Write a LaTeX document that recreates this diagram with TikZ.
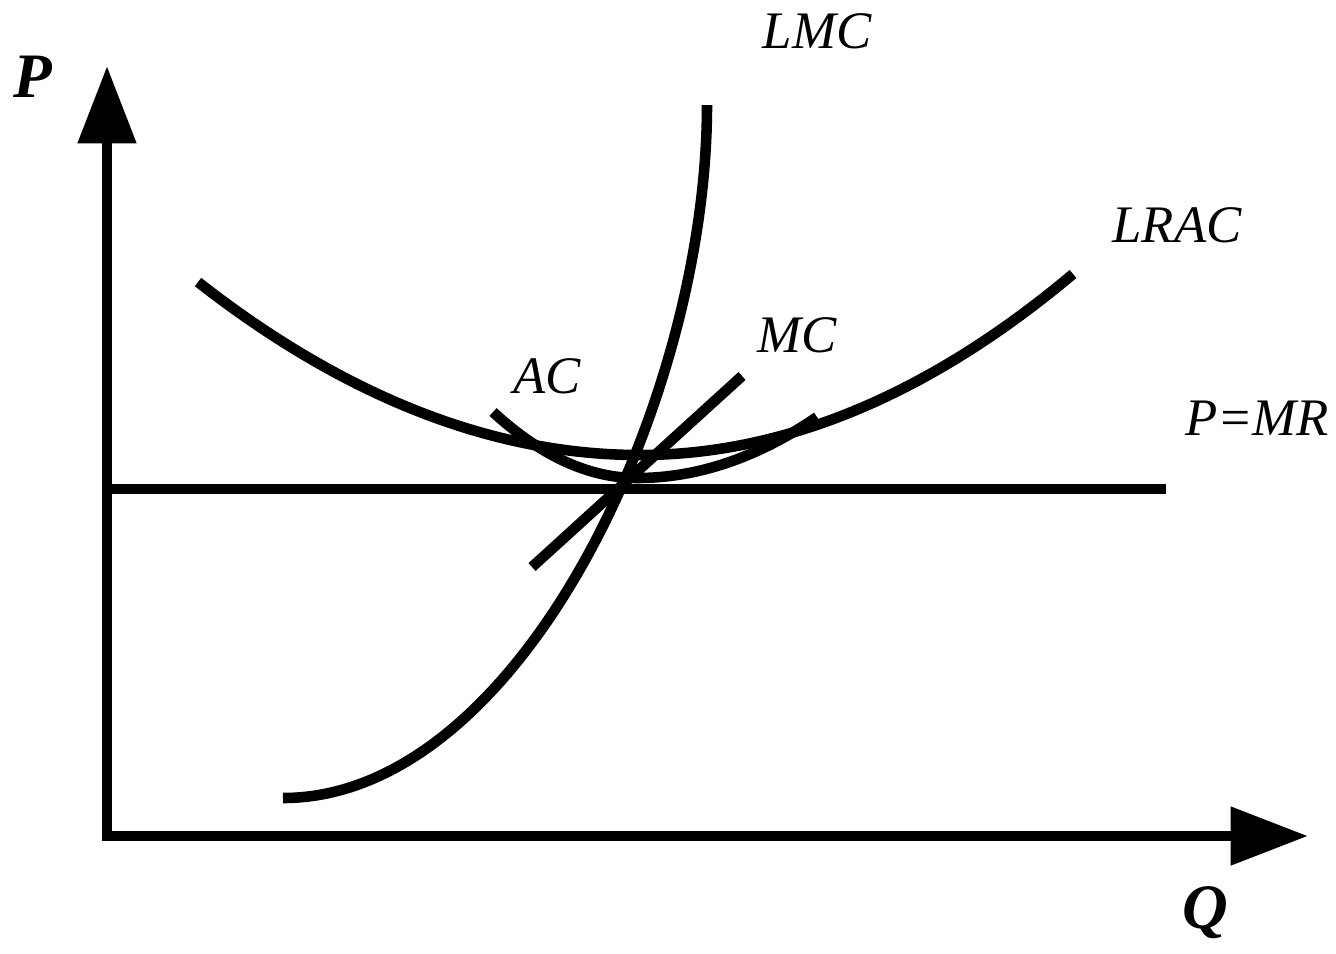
\documentclass[tikz,border=0pt]{standalone}
\usepackage{fontspec}
\setmainfont{Liberation Serif}
\usetikzlibrary{arrows.meta}

\begin{document}
\begin{tikzpicture}[x=0.01cm,y=-0.01cm,>={Triangle[length=22pt,width=16pt]},
    curve/.style={draw,line width=3pt},
    lbl/.style={font=\fontsize{15}{18}\selectfont\itshape,inner sep=0pt,anchor=base},
    axlbl/.style={font=\fontsize{18}{21}\selectfont\bfseries\itshape,inner sep=0pt,anchor=base}]
  \useasboundingbox (0,0) rectangle (1336,953);

  % axes
  \coordinate (O) at (107,836);
  \coordinate (Ptop) at (107,66);
  \coordinate (Qend) at (1308,836);
  \draw[curve,<->] (Ptop) -- (O) -- (Qend);
  \node[axlbl] (P) at (33,97) {P};
  \node[axlbl] (Q) at (1205,928) {Q};

  % price line
  \coordinate (mrL) at (107,489);
  \coordinate (mrR) at (1166,489);
  \draw[curve] (mrL) -- (mrR);

  % cost curves
  \draw[curve] (198,282) .. controls (345,397) and (493,455) .. (640,455)
    .. controls (784,455) and (929,395) .. (1073,274);
  \draw[curve] (493,412) .. controls (541,456) and (589,478) .. (637,478)
    .. controls (697,478) and (757,458) .. (817,417);
  \draw[curve] (532,567) -- (742,376);
  \draw[curve] (283,798) .. controls (520,798) and (707,400) .. (707,105);

  % labels
  \node[lbl] (lmc) at (817,48) {LMC};
  \node[lbl] (lrac) at (1177,242) {LRAC};
  \node[lbl] (mc) at (797,352) {MC};
  \node[lbl] (ac) at (547,393) {AC};
  \node[lbl] (pmr) at (1257,435) {P=MR};
\end{tikzpicture}
\end{document}
